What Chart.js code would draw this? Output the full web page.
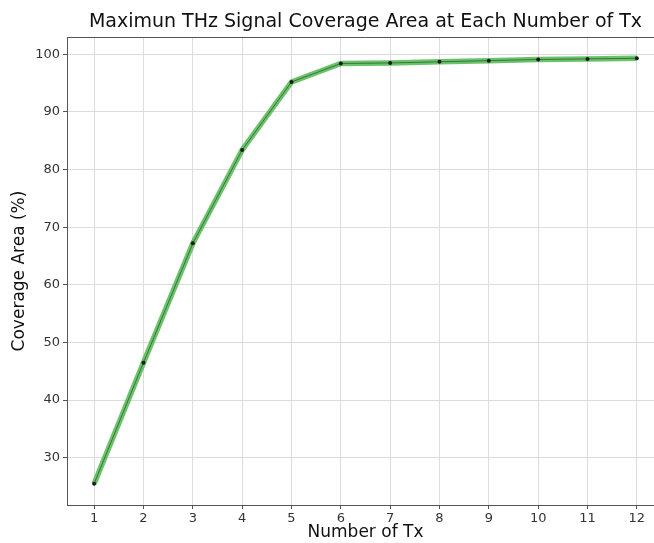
<!DOCTYPE html>
<html>
<head>
<meta charset="utf-8">
<script src="https://cdn.jsdelivr.net/npm/chart.js@4"></script>
<style>
  body { margin: 0; background: #fff; overflow: hidden; }
  #wrap { width: 654px; height: 543px; overflow: hidden; }
</style>
</head>
<body>
<div id="wrap"><canvas id="coverageChart" width="680" height="543"></canvas></div>
<script>
const txCounts = [1, 2, 3, 4, 5, 6, 7, 8, 9, 10, 11, 12];
const coverage = [25.5, 46.5, 67.2, 83.4, 95.2, 98.4, 98.5, 98.7, 98.9, 99.1, 99.2, 99.3];
const xTicks = [1, 2, 3, 4, 5, 6, 7, 8, 9, 10, 11, 12];
const yTicks = [30, 40, 50, 60, 70, 80, 90, 100];

const chartTitle = "Maximun THz Signal Coverage Area at Each Number of Tx";
const FONT = "'DejaVu Sans', sans-serif";

const points = txCounts.map((x, i) => ({ x: x, y: coverage[i] }));

// top edge of the plot box plus the title above it
const framePlugin = {
  id: "frame",
  afterDraw(chart) {
    const { ctx, chartArea: a } = chart;
    ctx.save();
    ctx.strokeStyle = "#555";
    ctx.lineWidth = 1;
    ctx.beginPath();
    ctx.moveTo(a.left, a.top + 0.5);
    ctx.lineTo(a.right, a.top + 0.5);
    ctx.stroke();
    ctx.fillStyle = "#111";
    ctx.font = "19px " + FONT;
    ctx.textAlign = "center";
    ctx.textBaseline = "middle";
    ctx.fillText(chartTitle, (a.left + a.right) / 2, 22);
    ctx.restore();
  },
};

new Chart(document.getElementById("coverageChart"), {
  type: "line",
  data: {
    datasets: [
      {
        data: points,
        borderColor: "rgba(80,185,80,0.85)",
        borderWidth: 5.5,
        pointRadius: 0,
        tension: 0,
        order: 2,
      },
      {
        data: points,
        borderColor: "rgba(20,50,20,0.55)",
        borderWidth: 1,
        pointRadius: 2,
        pointBackgroundColor: "#1a1a1a",
        pointBorderWidth: 0,
        tension: 0,
        order: 1,
      },
    ],
  },
  options: {
    responsive: false,
    animation: false,
    layout: { padding: { top: 37, right: 16, left: 0, bottom: 0 } },
    plugins: { legend: { display: false }, tooltip: { enabled: false } },
    scales: {
      x: {
        type: "linear",
        min: 0.45,
        max: 12.55,
        afterBuildTicks: (s) => { s.ticks = xTicks.map((v) => ({ value: v })); },
        afterFit: (s) => { s.height = 38; },
        grid: { color: "#dcdcdc", tickColor: "#555", tickLength: 4 },
        border: { color: "#555" },
        ticks: { color: "#333", font: { family: FONT, size: 13 }, padding: 2, maxRotation: 0 },
        title: {
          display: true,
          text: "Number of Tx",
          color: "#111",
          font: { family: FONT, size: 17 },
          padding: { top: 0, bottom: 0 },
        },
      },
      y: {
        min: 21.8,
        max: 103,
        afterBuildTicks: (s) => { s.ticks = yTicks.map((v) => ({ value: v })); },
        afterFit: (s) => { s.width = 67; },
        grid: { color: "#dcdcdc", tickColor: "#555", tickLength: 4 },
        border: { color: "#555" },
        ticks: { color: "#333", font: { family: FONT, size: 13 }, padding: 3 },
        title: {
          display: true,
          text: "Coverage Area (%)",
          color: "#111",
          font: { family: FONT, size: 17 },
          padding: { top: 9, bottom: 0 },
        },
      },
    },
  },
  plugins: [framePlugin],
});
</script>
</body>
</html>
